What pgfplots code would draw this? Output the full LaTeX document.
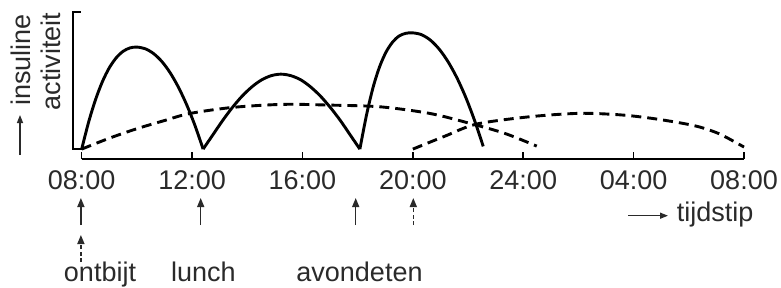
\documentclass[border=0pt]{standalone}
\usepackage{pgfplots}
\pgfplotsset{compat=1.18}
\usepackage{fontspec}
\setmainfont{Liberation Sans}
\usetikzlibrary{arrows.meta}
\definecolor{txt}{HTML}{2A2A2A}
\newcommand{\bigf}{\fontsize{27}{30}\selectfont}
\begin{document}
\begin{tikzpicture}[x=1pt,y=1pt]
\useasboundingbox (0,0) rectangle (781,287);
\begin{axis}[
  at={(81.7pt,127.7pt)}, anchor=south west,
  scale only axis, width=662.3pt, height=146.2pt,
  xmin=0, xmax=24, ymin=-7.5, ymax=100,
  axis x line*=bottom, axis y line=none,
  x axis line style={line width=2pt, -},
  xtick={0,4,8,12,16,20,24},
  xticklabels={08:00,12:00,16:00,20:00,24:00,04:00,08:00},
  tick align=inside, major tick length=7pt,
  xtick style={line width=1.5pt, black},
  xticklabel style={font=\bigf, text=txt, anchor=base, inner sep=0pt, yshift=-30pt},
  clip=false,
]
% solid: actual insulin activity
\addplot[line width=2.9pt, smooth] coordinates {(0,0) (0.25,19.8) (0.5,36.3) (0.75,49.6) (1,59.8) (1.25,67.1) (1.5,71.9) (1.75,74.4) (2,75) (2.3,73.8) (2.6,70.3) (2.9,64.5) (3.2,56.3) (3.5,45.7) (3.8,32.8) (4.1,17.6) (4.4,0)};
\addplot[line width=2.9pt, smooth] coordinates {(4.4,0) (4.76,10.7) (5.11,21.1) (5.46,30.6) (5.815,39.0) (6.17,45.8) (6.52,50.9) (6.87,54.0) (7.22,55.1) (7.58,54.0) (7.94,50.9) (8.29,45.8) (8.65,39.0) (9.01,30.6) (9.37,21.1) (9.72,10.7) (10.08,0)};
\addplot[line width=2.9pt, smooth] coordinates {(10.08,0) (10.32,25.0) (10.555,45.1) (10.79,60.3) (11.03,71.4) (11.27,78.8) (11.505,83.2) (11.74,85.1) (11.98,85.5) (12.305,84.2) (12.63,80.2) (12.955,73.5) (13.28,64.1) (13.605,52.1) (13.93,37.4) (14.255,20.0) (14.55,2)};
% dashed: basal insulin
\addplot[line width=2.9pt, smooth, dash pattern=on 10pt off 6pt] coordinates {(0,0) (1,8.0) (2,15.0) (3,21.0) (3.92,26.2) (5.49,30.7) (7.3,32.9) (8.88,32.4) (10.81,31.1) (12.62,26.2) (14.07,18.9) (15.34,11.5) (16.49,2.2)};
\addplot[line width=2.9pt, smooth, dash pattern=on 10pt off 6pt] coordinates {(12,0) (13.16,9.5) (14.31,18.4) (16.24,23.8) (18.05,26.3) (19.5,25.2) (20.59,22.8) (21.68,19.3) (22.4,16.2) (23.13,11.0) (24,1.5)};
\end{axis}
% y bracket
\draw[line width=1.8pt] (80.7,274.7) -- (73.3,274.7) -- (73.3,137.7) -- (83.3,137.7);
% y label
\node[rotate=90, anchor=base, inner sep=0pt, text=txt, font=\bigf] at (30,227) {insuline};
\node[rotate=90, anchor=base, inner sep=0pt, text=txt, font=\bigf] at (60,225.5) {activiteit};
\draw[txt, line width=1.4pt, -{Triangle[length=8pt,width=6pt]}] (20,132) -- (20,172);
% x label
\draw[txt, line width=1.4pt, -{Triangle[length=8pt,width=6pt]}] (628,71.3) -- (668,71.3);
\node[anchor=base west, inner sep=0pt, text=txt, font=\bigf] at (676.7,65.3) {tijdstip};
% meal arrows
\foreach \xx in {80.9,200.7,355.7}{
  \draw[txt, line width=1.5pt, -{Triangle[length=9pt,width=7pt]}] (\xx,62) -- (\xx,89);
}
\draw[txt, line width=1.5pt, dash pattern=on 4pt off 2.5pt, -{Triangle[length=9pt,width=7pt]}] (80.9,25) -- (80.9,52);
\draw[txt, line width=1.5pt, dash pattern=on 4pt off 2.5pt, -{Triangle[length=9pt,width=7pt]}] (413.3,62) -- (413.3,89);
% meal labels
\node[anchor=base, inner sep=0pt, text=txt, font=\bigf] at (100,5.3) {ontbijt};
\node[anchor=base, inner sep=0pt, text=txt, font=\bigf] at (203.4,5.3) {lunch};
\node[anchor=base, inner sep=0pt, text=txt, font=\bigf] at (359.5,5.3) {avondeten};
\end{tikzpicture}
\end{document}
